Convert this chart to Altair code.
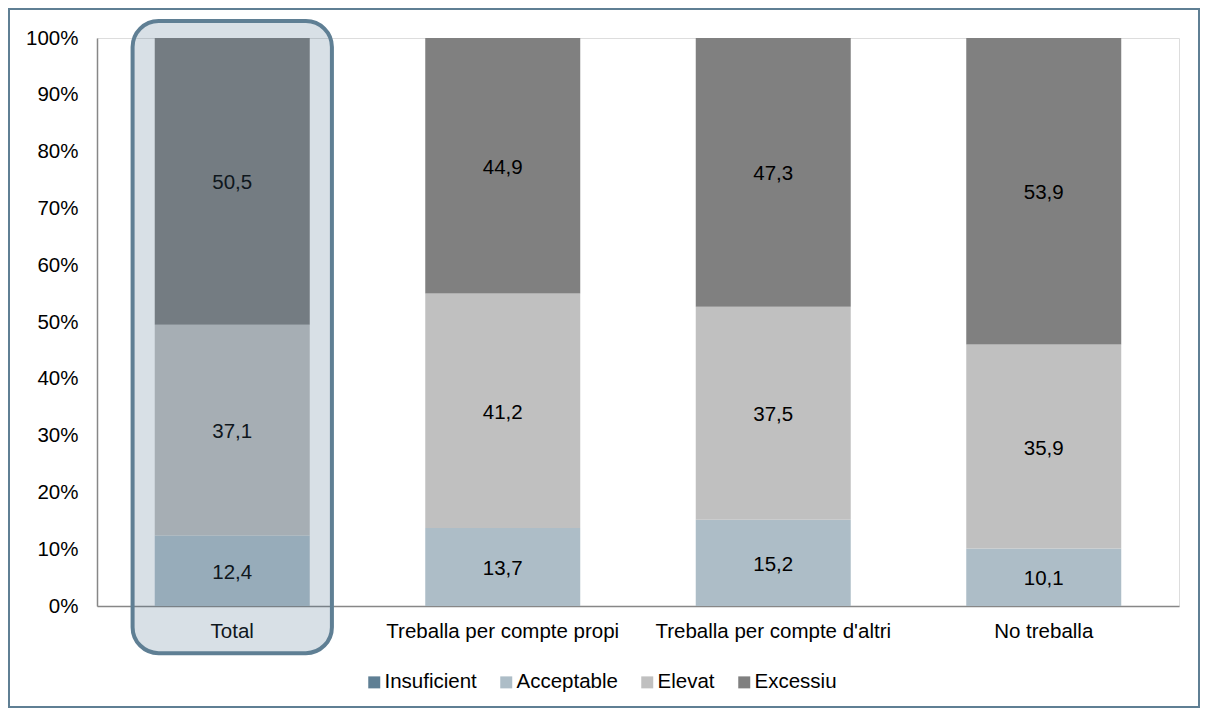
import altair as alt
import pandas as pd

categories = ["Total", "Treballa per compte propi", "Treballa per compte d'altri", "No treballa"]
levels = ["Insuficient", "Acceptable", "Elevat", "Excessiu"]
insuficient = [0.0, 0.0, 0.0, 0.0]
acceptable = [12.4, 13.7, 15.2, 10.1]
elevat = [37.1, 41.2, 37.5, 35.9]
excessiu = [50.5, 44.9, 47.3, 53.9]
colors = ["#5F7F94", "#ADBDC7", "#C0C0C0", "#808080"]
y_ticks = [0, 0.1, 0.2, 0.3, 0.4, 0.5, 0.6, 0.7, 0.8, 0.9, 1.0]

# highlight box around "Total" (in y-scale units, extends beyond the plot)
highlight_cat = ["Total"]
highlight_top = [1.03]
highlight_bottom = [-0.083]

rows = []
series = [insuficient, acceptable, elevat, excessiu]
for i, c in enumerate(categories):
    for j, lvl in enumerate(levels):
        rows.append({"cat": c, "level": lvl, "order": j, "value": series[j][i]})
df = pd.DataFrame(rows)

FONT = "Liberation Sans"
FS = 20.5

def xenc():
    return alt.X(
        "cat:N",
        sort=categories,
        scale=alt.Scale(paddingInner=0.427, paddingOuter=0.2135),
        axis=alt.Axis(
            title=None, labelAngle=0, labelFontSize=FS, labelColor="#000000",
            labelPadding=15, ticks=False, domainColor="#878787", domainWidth=1.5,
            labelFont=FONT, labelLimit=0,
        ),
    )

base = (
    alt.Chart(df)
    .transform_stack(
        stack="value", groupby=["cat"], sort=[alt.SortField("order", "ascending")],
        as_=["y0", "y1"], offset="normalize",
    )
    .transform_calculate(
        mid="(datum.y0 + datum.y1) / 2",
        label="replace(format(datum.value, '.1f'), '.', ',')",
    )
)

bars = base.mark_bar().encode(
    x=xenc(),
    y=alt.Y(
        "y0:Q",
        scale=alt.Scale(domain=[0, 1]),
        axis=alt.Axis(
            title=None, values=y_ticks, format=".0%", grid=False, ticks=False,
            labelFontSize=FS, labelColor="#000000", labelPadding=19,
            domainColor="#878787", domainWidth=1.5, labelFont=FONT,
        ),
    ),
    y2="y1:Q",
    color=alt.Color(
        "level:N",
        scale=alt.Scale(domain=levels, range=colors),
        legend=alt.Legend(
            title=None, orient="none", direction="horizontal", legendX=267, legendY=634,
            symbolType="square", symbolSize=144, symbolStrokeWidth=0,
            labelFontSize=FS, labelColor="#000000", labelOffset=0, columnPadding=19,
            labelFont=FONT, labelLimit=0,
        ),
    ),
)

text = base.transform_filter("datum.value > 0").mark_text(
    fontSize=FS, color="#000000", font=FONT, dy=2
).encode(
    x=xenc(),
    y=alt.Y("mid:Q"),
    text="label:N",
)

hdf = pd.DataFrame({"cat": highlight_cat, "top": highlight_top, "bottom": highlight_bottom})
highlight = alt.Chart(hdf).mark_bar(
    width=alt.RelativeBandSize(1.286), cornerRadius=26,
    fill="#456B88", fillOpacity=0.21, stroke="#5F7F94", strokeWidth=4, strokeOpacity=1,
).encode(
    x=xenc(),
    y=alt.Y("top:Q"),
    y2="bottom:Q",
)

frame = alt.Chart(pd.DataFrame({"a": [0]})).mark_rect(
    filled=False, stroke="#5F7F94", strokeWidth=2
).encode(
    x=alt.value(-88), x2=alt.value(1102), y=alt.value(-29), y2=alt.value(669),
)

chart = (
    alt.layer(frame, bars, text, highlight)
    .properties(
        width=1082, height=568,
        autosize=alt.AutoSizeParams(type="none"),
        padding={"left": 89, "top": 30, "right": 21, "bottom": 102},
    )
    .configure_view(stroke=None)
    .configure(font=FONT)
)

chart.save("out.html", embed_options={"renderer": "svg", "actions": False})
